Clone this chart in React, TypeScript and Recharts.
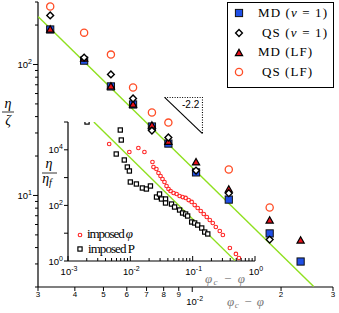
import React from 'react';
import { ScatterChart, Scatter, XAxis, YAxis } from 'recharts';

const W = 339;
const H = 313;
const SANS = '"Liberation Sans", Arial, sans-serif';
const SERIF = '"Liberation Serif", "Times New Roman", serif';
const GREEN = '#8fe01f';

// main panel: eta/zeta against phi_c - phi
const phiGap = [0.0033, 0.0043, 0.0053, 0.0063, 0.0073, 0.0083, 0.0103, 0.0133, 0.0183, 0.0233];
const mdNu1 = [185, 107, 68, 49.5, 33.6, 24.9, 15, 9.3, 5.13, 3.13];
const qsNu1 = [237, 113, 84, 55, 31.3, 27.7, 15.5, 10.4, 4.6, null];
const mdLF = [185, 111, 68, 49.5, 34.2, 25.7, 17.9, 11.1, 6.44, 4.53];
const qsLF = [277, 175, 119, 66.7, 43, 36, null, 15.8, 8.1, null];

const fitMainX = [0.003, 0.0258];
const fitMainY = [232, 2.02];
const slopeX = [0.00806, 0.01083, 0.01083];
const slopeY = [56, 56, 29.7];

// inset: eta/eta_f against phi_c - phi
const imposedPX = [0.00202, 0.0069, 0.00716, 0.00594, 0.008, 0.00895, 0.00965, 0.01, 0.0125, 0.0156, 0.0181, 0.021, 0.0263, 0.0294, 0.0316, 0.0367, 0.0367, 0.0458, 0.0513, 0.0617, 0.069, 0.0771, 0.083, 0.0964, 0.1077, 0.1204, 0.1397, 0.156, 0.1746];
const imposedPY = [100000, 51500, 22500, 7060, 4300, 2400, 1730, 695, 589, 423, 389, 499, 200, 257, 170, 170, 122, 112, 87.5, 68.4, 53.3, 49, 41.6, 25.3, 23.3, 19.7, 15.4, 11.0, 9.4];
const imposedPhiX = [0.00458, 0.00964, 0.01346, 0.01683, 0.02265, 0.0235, 0.0262, 0.0283, 0.0305, 0.0328, 0.0353, 0.0381, 0.041, 0.0442, 0.0494, 0.0552, 0.0617, 0.069, 0.0771, 0.0861, 0.0964, 0.1077, 0.1204, 0.1346, 0.1505, 0.1683, 0.188, 0.21, 0.235, 0.272, 0.305, 0.395, 0.494, 0.552];
const imposedPhiY = [16180, 8330, 11600, 8330, 3640, 2400, 2040, 1465, 1142, 891, 695, 499, 389, 330, 279, 257, 218, 200, 185, 156, 133, 103, 80.5, 62.9, 49.1, 38.3, 29.9, 23.3, 16.7, 12.0, 8.6, 2.94, 1.79, 1.28];
const fitInsetX = [0.0026, 0.48];
const fitInsetY = [100000, 1.03];

const mainXTicks = [0.003, 0.004, 0.005, 0.006, 0.007, 0.008, 0.009, 0.01, 0.02, 0.03];
const mainYTicks = [2, 3, 4, 5, 6, 7, 8, 9, 10, 20, 30, 40, 50, 60, 70, 80, 90, 100, 200, 300];
const insetDecadesX = [0.001, 0.01, 0.1, 1];
const insetYTicks = [1, 10, 100, 1000, 10000, 100000];

const pairs = (xs: number[], ys: (number | null)[]) =>
  xs.map((x, i) => ({ x, y: ys[i] })).filter(p => p.y != null);

const insetXTicks: number[] = [];
insetDecadesX.forEach((d, i) => {
  insetXTicks.push(d);
  if (i < insetDecadesX.length - 1) for (let m = 2; m <= 9; m++) insetXTicks.push(m * d);
});

const expOf = (v: number) => Math.round(Math.log10(v));
const isDecade = (v: number) => Math.abs(Math.log10(v) - expOf(v)) < 1e-6;

const MainXTick = (props: any) => {
  const { x, y, payload } = props;
  const v = payload.value;
  const e = Math.floor(Math.log10(v) + 1e-9);
  const mant = Math.round(v / Math.pow(10, e));
  return (
    <g>
      <line x1={x} x2={x} y1={y} y2={y + (mant === 1 ? 5 : 4)} stroke="#000" strokeWidth={1} />
      {mant === 1 ? (
        <text x={x - 6} y={y + 18} fontSize={9.5} fontFamily={SANS} fill="#000">
          10<tspan dy={-4} fontSize={7}>{e}</tspan>
        </text>
      ) : (
        <text x={x} y={y + 10} textAnchor="middle" fontSize={8} fontFamily={SANS} fill="#000">{mant}</text>
      )}
    </g>
  );
};

const MainYTick = (props: any) => {
  const { x, y, payload } = props;
  const v = payload.value;
  const major = isDecade(v);
  return (
    <g>
      <line x1={x - (major ? 5 : 3)} x2={x} y1={y} y2={y} stroke="#000" strokeWidth={1} />
      {major && (
        <text x={x - 6} y={y + 3.5} textAnchor="end" fontSize={9.5} fontFamily={SANS} fill="#000">
          10<tspan dy={-4} fontSize={7}>{expOf(v)}</tspan>
        </text>
      )}
    </g>
  );
};

const InsetXTick = (props: any) => {
  const { x, y, payload } = props;
  const v = payload.value;
  const major = isDecade(v);
  return (
    <g>
      <line x1={x} x2={x} y1={y} y2={y - (major ? 5 : 3)} stroke="#000" strokeWidth={1} />
      {major && (
        <text x={x + 1} y={y + 14} textAnchor="middle" fontSize={9.5} fontFamily={SANS} fill="#000">
          10<tspan dy={-4} fontSize={7}>{expOf(v)}</tspan>
        </text>
      )}
    </g>
  );
};

const InsetYTick = (props: any) => {
  const { x, y, payload } = props;
  const e = expOf(payload.value);
  return (
    <g>
      <line x1={x - 4} x2={x} y1={y} y2={y} stroke="#000" strokeWidth={1} />
      {e % 2 === 0 && e < 5 && (
        <text x={x - 5} y={y + 3.5} textAnchor="end" fontSize={9.5} fontFamily={SANS} fill="#000">
          10<tspan dy={-4} fontSize={7}>{e}</tspan>
        </text>
      )}
    </g>
  );
};

const MdSquare = ({ cx, cy }: any) => (
  <rect x={cx - 3.6} y={cy - 3.6} width={7.2} height={7.2} fill="#1f4fe6" stroke="#111" strokeWidth={1} />
);
const QsDiamond = ({ cx, cy }: any) => (
  <path d={`M${cx},${cy - 3.4}L${cx + 3.4},${cy}L${cx},${cy + 3.4}L${cx - 3.4},${cy}Z`} fill="#fff" stroke="#000" strokeWidth={1.4} />
);
const MdTriangle = ({ cx, cy }: any) => (
  <path d={`M${cx},${cy - 3.8}L${cx + 3.6},${cy + 2.6}L${cx - 3.6},${cy + 2.6}Z`} fill="#e8101a" stroke="#000" strokeWidth={1.2} />
);
const QsCircle = ({ cx, cy }: any) => (
  <circle cx={cx} cy={cy} r={3.6} fill="none" stroke="#ff4d26" strokeWidth={1.3} />
);
const PhiCircle = ({ cx, cy }: any) => (
  <circle cx={cx} cy={cy} r={1.8} fill="none" stroke="#ff2424" strokeWidth={1.1} />
);
const PSquare = ({ cx, cy }: any) => (
  <rect x={cx - 2.1} y={cy - 2.1} width={4.2} height={4.2} fill="#fff" stroke="#000" strokeWidth={1.2} />
);
const NoDot = () => <g />;

const abs: React.CSSProperties = { position: 'absolute', left: 0, top: 0 };

const App = () => {
  return (
    <div style={{ position: 'absolute', left: 0, top: 0, width: W, height: H, background: '#fff' }}>
      <div style={abs}>
        <ScatterChart width={W} height={H} margin={{ top: 2, right: 6, bottom: 0, left: 0 }}>
          <XAxis type="number" dataKey="x" scale="log" domain={[0.003, 0.03]} allowDataOverflow ticks={mainXTicks}
            interval={0} tick={MainXTick} tickLine={false} tickSize={0} tickMargin={0} height={26}
            axisLine={{ stroke: '#000', strokeWidth: 1.2 }} />
          <YAxis type="number" dataKey="y" scale="log" domain={[2, 300]} allowDataOverflow ticks={mainYTicks}
            interval={0} tick={MainYTick} tickLine={false} tickSize={0} tickMargin={0} width={38}
            axisLine={{ stroke: '#000', strokeWidth: 1.2 }} />
          <Scatter data={pairs(fitMainX, fitMainY)} shape={NoDot} line={{ stroke: GREEN, strokeWidth: 1.4 }} isAnimationActive={false} />
          <Scatter data={pairs(slopeX, slopeY)} shape={NoDot} line={{ stroke: '#000', strokeWidth: 1.1, strokeDasharray: '1 1.5' }} isAnimationActive={false} />
          <Scatter data={pairs([slopeX[0], slopeX[2]], [slopeY[0], slopeY[2]])} shape={NoDot} line={{ stroke: '#000', strokeWidth: 1.1 }} isAnimationActive={false} />
          <Scatter data={pairs(phiGap, mdNu1)} shape={MdSquare} isAnimationActive={false} />
          <Scatter data={pairs(phiGap, mdLF)} shape={MdTriangle} isAnimationActive={false} />
          <Scatter data={pairs(phiGap, qsNu1)} shape={QsDiamond} isAnimationActive={false} />
          <Scatter data={pairs(phiGap, qsLF)} shape={QsCircle} isAnimationActive={false} />
        </ScatterChart>
      </div>
      <div style={abs}>
        <ScatterChart width={W} height={H} margin={{ top: 122, right: 84, bottom: 0, left: 0 }}>
          <XAxis type="number" dataKey="x" scale="log" domain={[0.001, 1]} allowDataOverflow ticks={insetXTicks}
            interval={0} tick={InsetXTick} tickLine={false} tickSize={0} tickMargin={0} height={52}
            axisLine={{ stroke: '#000', strokeWidth: 1.2 }} />
          <YAxis type="number" dataKey="y" scale="log" domain={[1, 100000]} allowDataOverflow ticks={insetYTicks}
            interval={0} tick={InsetYTick} tickLine={false} tickSize={0} tickMargin={0} width={68}
            axisLine={{ stroke: '#000', strokeWidth: 1.2 }} />
          <Scatter data={pairs(fitInsetX, fitInsetY)} shape={NoDot} line={{ stroke: GREEN, strokeWidth: 1.4 }} isAnimationActive={false} />
          <Scatter data={pairs(imposedPX, imposedPY)} shape={PSquare} isAnimationActive={false} />
          <Scatter data={pairs(imposedPhiX, imposedPhiY)} shape={PhiCircle} isAnimationActive={false} />
        </ScatterChart>
      </div>
      <svg width={W} height={H} style={{ ...abs, pointerEvents: 'none' }}>
        {/* main y label */}
        <text x={8} y={108} textAnchor="middle" fontSize={14} fontStyle="italic" fontFamily={SERIF}>η</text>
        <line x1={2} x2={14} y1={112} y2={112} stroke="#000" strokeWidth={0.8} />
        <text x={8} y={125} textAnchor="middle" fontSize={14} fontStyle="italic" fontFamily={SERIF}>ζ</text>
        {/* inset y label */}
        <text x={49} y={168} textAnchor="middle" fontSize={14} fontStyle="italic" fontFamily={SERIF}>η</text>
        <line x1={42} x2={57} y1={173} y2={173} stroke="#000" strokeWidth={0.8} />
        <text x={47} y={183} textAnchor="middle" fontSize={14} fontStyle="italic" fontFamily={SERIF}>
          η<tspan dy={3} fontSize={10}>f</tspan>
        </text>
        {/* x labels */}
        <text x={205} y={283} fontSize={13} fontStyle="italic" fontFamily={SERIF} fill="#7a7a7a" textLength={40} lengthAdjust="spacing">
          φ<tspan dy={2} fontSize={9}>c</tspan><tspan dy={-2}> − φ</tspan>
        </text>
        <text x={227} y={306} fontSize={13} fontStyle="italic" fontFamily={SERIF} fill="#7a7a7a" textLength={37} lengthAdjust="spacing">
          φ<tspan dy={2} fontSize={9}>c</tspan><tspan dy={-2}> − φ</tspan>
        </text>
        {/* slope label */}
        <text x={182} y={108} fontSize={10} fontFamily={SANS} fill="#000">-2.2</text>
        {/* main legend */}
        <rect x={227.5} y={2.5} width={106} height={85} fill="#fff" stroke="#000" strokeWidth={1} />
        <MdSquare cx={239} cy={13} />
        <QsDiamond cx={239} cy={33} />
        <MdTriangle cx={239} cy={53} />
        <QsCircle cx={239} cy={72} />
        <text x={258} y={17} fontSize={13} fontFamily={SERIF} textLength={69} lengthAdjust="spacing">MD (<tspan fontStyle="italic">ν</tspan> = 1)</text>
        <text x={262} y={37} fontSize={13} fontFamily={SERIF} textLength={65} lengthAdjust="spacing">QS (<tspan fontStyle="italic">ν</tspan> = 1)</text>
        <text x={258} y={56} fontSize={13} fontFamily={SERIF} textLength={54} lengthAdjust="spacing">MD (LF)</text>
        <text x={262} y={76} fontSize={13} fontFamily={SERIF} textLength={50} lengthAdjust="spacing">QS (LF)</text>
        {/* inset legend */}
        <PhiCircle cx={80} cy={235} />
        <PSquare cx={80} cy={249} />
        <text x={87} y={238} fontSize={13} fontFamily={SERIF} textLength={46} lengthAdjust="spacing">imposed <tspan fontStyle="italic">φ</tspan></text>
        <text x={88} y={253} fontSize={13} fontFamily={SERIF} textLength={47} lengthAdjust="spacing">imposed P</text>
      </svg>
    </div>
  );
};

export default App;
